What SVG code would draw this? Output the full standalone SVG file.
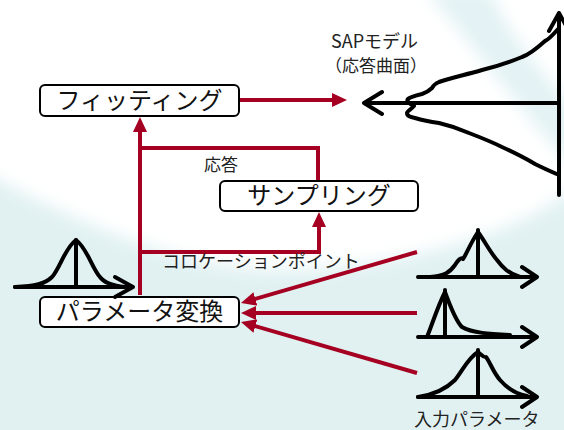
<svg xmlns="http://www.w3.org/2000/svg" width="564" height="430" viewBox="0 0 564 430">
  <defs>
    <filter id="blur" x="-20%" y="-20%" width="140%" height="140%">
      <feGaussianBlur stdDeviation="8"/>
    </filter>
    <marker id="redArrow" viewBox="0 0 15 14" refX="3" refY="7" markerWidth="15" markerHeight="14" markerUnits="userSpaceOnUse" orient="auto">
      <path d="M0,0 L15,7 L0,14 Z" fill="#a50021"/>
    </marker>
  </defs>
  <style>
    .box { fill: #ffffff; stroke: #000000; stroke-width: 2; }
    .boxText { font-family: "Noto Sans CJK JP", "Noto Sans", sans-serif; font-size: 24px; fill: #111111; text-anchor: middle; }
    .label { font-family: "Noto Sans CJK JP", "Noto Sans", sans-serif; font-size: 17px; fill: #222222; }
    .red { fill: none; stroke: #a50021; stroke-width: 4; }
    .ink { fill: none; stroke: #000000; stroke-width: 4; stroke-linecap: round; stroke-linejoin: round; }
  </style>

  <!-- background -->
  <rect x="0" y="0" width="564" height="430" fill="#e1f1f2"/>
  <path d="M-20,-20 H584 V180 C530,230 420,262 300,270 C200,274 100,235 -20,170 Z" fill="#ffffff" filter="url(#blur)"/>
  <path d="M425,-10 C470,40 520,110 575,170 L575,110 C540,70 505,30 490,-10 Z" fill="#e3f2f4" filter="url(#blur)"/>

  <!-- connectors -->
  <g id="connectors">
    <path class="red" d="M140,295 V129" marker-end="url(#redArrow)"/>
    <path class="red" d="M240,100 H335" marker-end="url(#redArrow)"/>
    <path class="red" d="M140,148 H318 V182"/>
    <path class="red" d="M140,252 H319 V224" marker-end="url(#redArrow)"/>
    <path class="red" d="M417,252 L252.5,299.7" marker-end="url(#redArrow)"/>
    <path class="red" d="M417,313 L253,313" marker-end="url(#redArrow)"/>
    <path class="red" d="M417,373 L252.5,325.3" marker-end="url(#redArrow)"/>
  </g>

  <!-- nodes -->
  <g id="fitting">
    <rect class="box" x="40" y="85" width="199" height="31" rx="5"/>
    <text class="boxText" x="139.5" y="109">フィッティング</text>
  </g>
  <g id="sampling">
    <rect class="box" x="220" y="181" width="198" height="30" rx="5"/>
    <text class="boxText" x="319" y="204">サンプリング</text>
  </g>
  <g id="param-transform">
    <rect class="box" x="40" y="297" width="199" height="30" rx="5"/>
    <text class="boxText" x="139.5" y="320">パラメータ変換</text>
  </g>

  <!-- labels -->
  <g id="labels">
    <text class="label" x="204" y="171">応答</text>
    <text class="label" x="162" y="268" style="font-size:18px">コロケーションポイント</text>
    <text class="label" x="331" y="48" style="font-size:18px">SAPモデル</text>
    <text class="label" x="325" y="72" style="font-size:17px">（応答曲面）</text>
    <text class="label" x="414" y="426" style="font-size:18px">入力パラメータ</text>
  </g>

  <!-- SAP model response surface -->
  <g id="sap-model">
    <path class="ink" d="M559,195 V13 M549,31 L559,13 L569,31"/>
    <path class="ink" d="M559,103 H364 M382,92 L364,103 L382,114"/>
    <path class="ink" d="M559,28 C552,36 548,40 545,41 C535,50 528,55 522,57 C505,64 495,67 482,70 C465,75 450,78 439,82 C434,84 433,86 432,88 C428,92 425,93 422,94 C414,96 410,97 408,99 C406,101 410,104 414,106 C412,109 407,111 407,113 C407,116 410,117 415,118 C425,121 432,122 439,123 C452,126 460,129 469,133 C482,138 492,142 502,147 C515,153 525,158 535,164 C545,169 552,172 559,175"/>
  </g>

  <!-- input gaussian (left) -->
  <g id="input-dist-left">
    <path class="ink" d="M15,287 H133 M115,277 L133,287 L115,297"/>
    <path class="ink" d="M76,287 V240"/>
    <path class="ink" d="M15,287 C35,286 45,284 52,277 C60,268 65,248 76,240 C87,248 92,268 100,277 C105,284 115,286 125,287"/>
  </g>

  <!-- input parameter distributions (right) -->
  <g id="input-dist-1">
    <path class="ink" d="M418,277 H537 M522,267 L537,277 L522,287"/>
    <path class="ink" d="M478,277 V230"/>
    <path class="ink" d="M430,277 C445,276 450,272 455,265 C458,260 461,257 463,259 C466,255 470,244 478,232 C484,240 490,252 497,260 C503,268 508,273 520,277"/>
  </g>
  <g id="input-dist-2">
    <path class="ink" d="M418,337 H537 M522,327 L537,337 L522,347"/>
    <path class="ink" d="M445,337 V290"/>
    <path class="ink" d="M427,337 C432,325 437,308 445,292 C450,305 455,320 462,327 C472,333 490,334 510,335"/>
  </g>
  <g id="input-dist-3">
    <path class="ink" d="M418,397 H537 M522,387 L537,397 L522,407"/>
    <path class="ink" d="M478,397 V350"/>
    <path class="ink" d="M418,397 C432,395 445,390 455,380 C463,370 468,358 478,352 C482,355 484,358 486,357 C490,362 493,372 500,380 C507,388 515,394 527,396"/>
  </g>
</svg>
